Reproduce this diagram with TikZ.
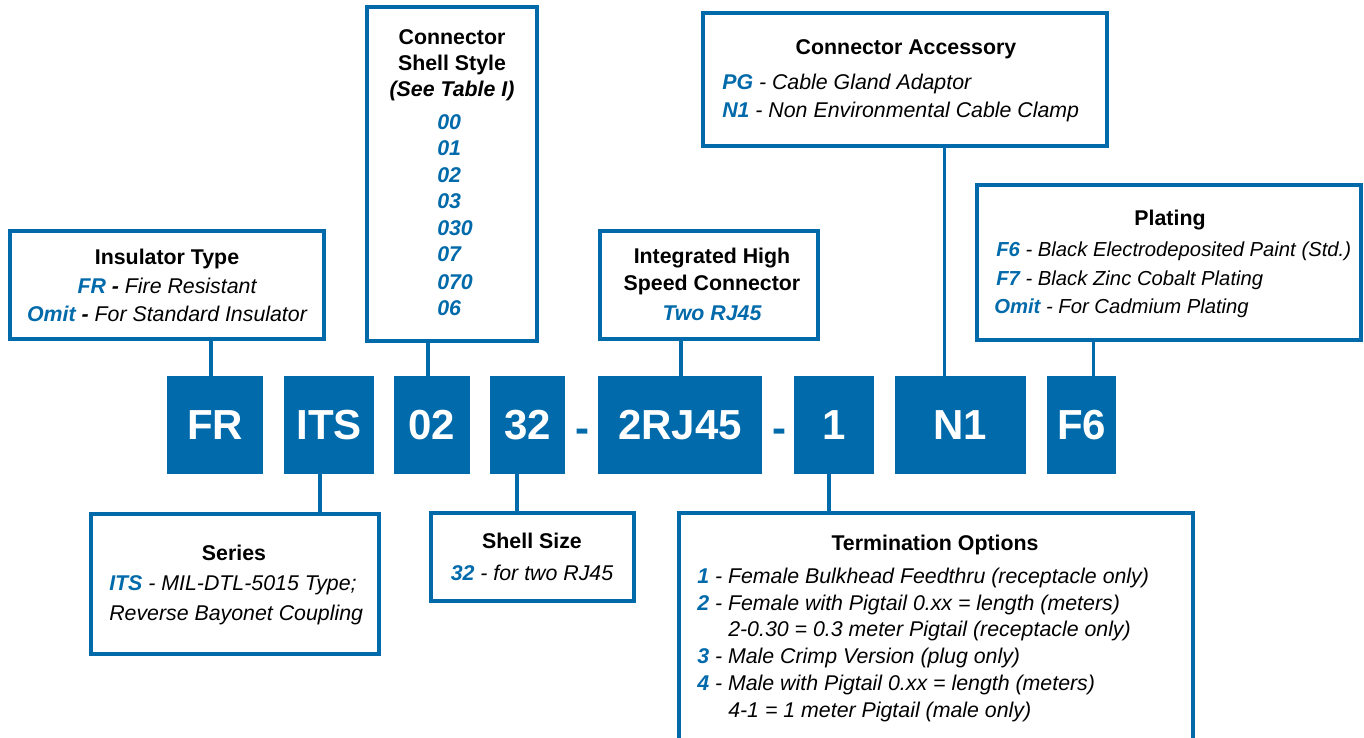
\documentclass[tikz,border=0pt]{standalone}
\usepackage{fontspec}
\setmainfont{Liberation Sans}
\usetikzlibrary{fit,calc}
\definecolor{ablue}{RGB}{0,106,170}
\newcommand\kb[1]{{\color{ablue}\bfseries #1}}
\begin{document}
\begin{tikzpicture}[x=0.75pt,y=-0.75pt,
 lbl/.style={draw=ablue,line width=2.7pt,inner sep=0pt,fill=white},
 code/.style={fill=ablue,inner sep=0pt,text=white,minimum height=73.5pt,font=\bfseries\fontsize{31.5}{36}\selectfont},
 conn/.style={draw=ablue,line width=2.7pt},
 ttl/.style={font=\bfseries\fontsize{16}{21}\selectfont,anchor=base,inner sep=0pt},
 txt/.style={font=\itshape\fontsize{16}{21}\selectfont,anchor=base,inner sep=0pt},
 txl/.style={txt,anchor=base west},
 txp/.style={txl,font=\itshape\fontsize{15.2}{21}\selectfont},
 dashc/.style={font=\bfseries\fontsize{31.5}{36}\selectfont,text=ablue,inner sep=0pt,anchor=base}]
\clip (0,0) rectangle (1364,738);
% code boxes
\node[code, minimum width=72pt] (fr) at (215,425) {FR};
\node[code, minimum width=67.5pt] (its) at (329,425) {ITS};
\node[code, minimum width=57pt] (c02) at (432,425) {02};
\node[code, minimum width=56.25pt] (c32) at (527.5,425) {32};
\node[dashc] (d1) at (582.5,442) {-};
\node[code, minimum width=123pt] (rj) at (680,425) {2RJ45};
\node[dashc] (d2) at (779.5,442) {-};
\node[code, minimum width=60pt] (c1) at (834,425) {1};
\node[code, minimum width=98.25pt] (n1) at (960.5,425) {N1};
\node[code, minimum width=51.75pt] (f6) at (1081.5,425) {F6};
% label boxes
\node[lbl, fit={(10,231)(324,339)}] (ins) {};
\node[lbl, fit={(367,7)(537,341)}] (shell) {};
\node[lbl, fit={(703,13)(1107,146)}] (acc) {};
\node[lbl, fit={(977,185)(1361,340)}] (plat) {};
\node[lbl, fit={(600,231)(818,339)}] (ihs) {};
\node[lbl, fit={(91,514)(379,654)}] (ser) {};
\node[lbl, fit={(431,513)(634,601)}] (ssz) {};
\node[lbl, fit={(679,513)(1193,745)}] (term) {};
% connectors
\coordinate (k1) at ($(fr.north)+(-4,0)$);
\coordinate (k2) at ($(its.south)+(-9,0)$);
\coordinate (k3) at ($(c02.north)+(-4,0)$);
\coordinate (k4) at ($(c32.south)+(-10.5,0)$);
\coordinate (k5) at ($(rj.north)+(1,0)$);
\coordinate (k6) at ($(c1.south)+(-5,0)$);
\coordinate (k7) at ($(n1.north)+(-16,0)$);
\coordinate (k8) at ($(f6.north)+(12,0)$);
\draw[conn] (k1) -- (k1 |- ins.south);
\draw[conn] (k2) -- (k2 |- ser.north);
\draw[conn] (k3) -- (k3 |- shell.south);
\draw[conn] (k4) -- (k4 |- ssz.north);
\draw[conn] (k5) -- (k5 |- ihs.south);
\draw[conn] (k6) -- (k6 |- term.north);
\draw[conn] (k7) -- (k7 |- acc.south);
\draw[conn] (k8) -- (k8 |- plat.south);
% Insulator
\node[ttl] (t1) at (167,264) {Insulator Type};
\node[txt] (t1a) at (167,293) {\kb{FR} {\bfseries -} Fire Resistant};
\node[txt] (t1b) at (167,321) {\kb{Omit} {\bfseries -} For Standard Insulator};
% Shell style
\node[ttl] (t2) at (452,45) {Connector};
\node[ttl] (t2a) at (452,71) {Shell Style};
\node[ttl] (t2b) at (452,97) {\itshape (See Table I)};
\foreach \v/\y in {00/130,01/156,02/183,03/209,030/236,07/262,070/289,06/315}
  \node[txl] (s\v) at (437,\y) {\kb{\v}};
% Accessory
\node[ttl] (t3) at (906,55) {Connector Accessory};
\node[txl] (t3a) at (722,90) {\kb{PG} - Cable Gland Adaptor};
\node[txl] (t3b) at (722,118) {\kb{N1} - Non Environmental Cable Clamp};
% Plating
\node[ttl] (t4) at (1170,226) {Plating};
\node[txp] (t4a) at (996,257) {\kb{F6} - Black Electrodeposited Paint (Std.)};
\node[txp] (t4b) at (996,286) {\kb{F7} - Black Zinc Cobalt Plating};
\node[txp] (t4c) at (994,313) {\kb{Omit} - For Cadmium Plating};
% Integrated
\node[ttl] (t5) at (712,263) {Integrated High};
\node[ttl] (t5a) at (712,291) {Speed Connector};
\node[txt] (t5b) at (712,320) {\kb{Two RJ45}};
% Series
\node[ttl] (t6) at (234,560) {Series};
\node[txl] (t6a) at (109,590) {\kb{ITS} - MIL-DTL-5015 Type;};
\node[txl] (t6b) at (109,620) {Reverse Bayonet Coupling};
% Shell size
\node[ttl] (t7) at (532,548) {Shell Size};
\node[txt] (t7a) at (532,580) {\kb{32} - for two RJ45};
% Termination
\node[ttl] (t8) at (935,550) {Termination Options};
\node[txl] (t8a) at (697,583) {\kb{1} - Female Bulkhead Feedthru (receptacle only)};
\node[txl] (t8b) at (697,610) {\kb{2} - Female with Pigtail 0.xx = length (meters)};
\node[txl] (t8c) at (728,636) {2-0.30 = 0.3 meter Pigtail (receptacle only)};
\node[txl] (t8d) at (697,663) {\kb{3} - Male Crimp Version (plug only)};
\node[txl] (t8e) at (697,690) {\kb{4} - Male with Pigtail 0.xx = length (meters)};
\node[txl] (t8f) at (728,717) {4-1 = 1 meter Pigtail (male only)};
\end{tikzpicture}
\end{document}
